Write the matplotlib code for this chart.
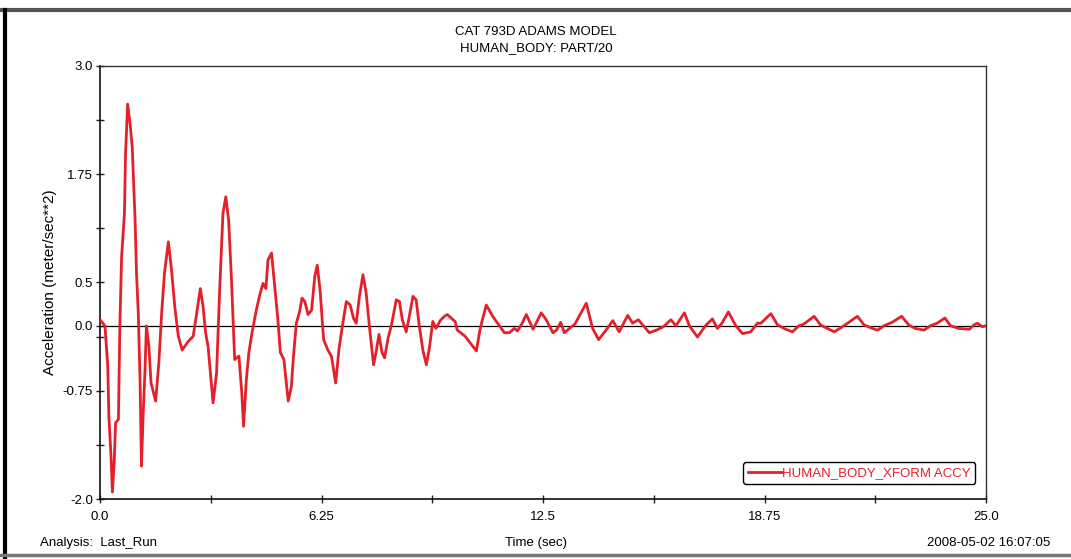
import matplotlib
matplotlib.use("Agg")
import matplotlib.pyplot as plt
from matplotlib.lines import Line2D

plt.rcParams['font.family'] = ['Liberation Sans Narrow', 'Liberation Sans', 'DejaVu Sans']

# HUMAN_BODY_XFORM ACCY, last run
time_sec = [
    0.00, 0.14, 0.22, 0.25, 0.31, 0.35, 0.40, 0.44, 0.52, 0.56, 0.61, 0.69,
    0.72, 0.78, 0.85, 0.91, 0.99, 1.03, 1.08, 1.13, 1.17, 1.22, 1.27, 1.31,
    1.38, 1.44, 1.57, 1.66, 1.74, 1.82, 1.93, 2.02, 2.11, 2.21, 2.32, 2.49,
    2.63, 2.73, 2.83, 2.91, 2.98, 3.05, 3.19, 3.29, 3.38, 3.47, 3.55, 3.63,
    3.71, 3.80, 3.92, 4.00, 4.05, 4.13, 4.20, 4.29, 4.41, 4.51, 4.60, 4.68,
    4.74, 4.84, 4.93, 5.02, 5.09, 5.19, 5.31, 5.40, 5.46, 5.54, 5.63, 5.70,
    5.78, 5.87, 5.97, 6.06, 6.13, 6.21, 6.31, 6.43, 6.53, 6.65, 6.74, 6.84,
    6.95, 7.06, 7.15, 7.23, 7.32, 7.42, 7.51, 7.60, 7.72, 7.80, 7.87, 7.96,
    8.03, 8.13, 8.22, 8.36, 8.45, 8.53, 8.64, 8.71, 8.83, 8.92, 9.01, 9.11,
    9.21, 9.30, 9.39, 9.48, 9.60, 9.72, 9.80, 9.96, 10.02, 10.08, 10.30,
    10.62, 10.72, 10.79, 10.90, 11.08, 11.22, 11.41, 11.55, 11.69, 11.78,
    11.90, 12.03, 12.22, 12.45, 12.59, 12.78, 12.88, 13.00, 13.10, 13.40,
    13.72, 13.90, 14.07, 14.28, 14.47, 14.65, 14.89, 15.03, 15.19, 15.50,
    15.70, 15.90, 16.11, 16.25, 16.49, 16.63, 16.86, 17.08, 17.28, 17.42,
    17.55, 17.73, 17.94, 18.13, 18.36, 18.55, 18.65, 18.93, 19.12, 19.35,
    19.54, 19.72, 19.86, 20.15, 20.33, 20.52, 20.72, 20.95, 21.13, 21.37,
    21.56, 21.79, 21.94, 22.12, 22.35, 22.62, 22.82, 23.00, 23.25, 23.43,
    23.62, 23.84, 24.00, 24.23, 24.53, 24.66, 24.76, 24.89, 25.00,
]
accel = [
    0.07, 0.00, -0.47, -1.04, -1.50, -1.92, -1.58, -1.12, -1.08, 0.00, 0.80, 1.30,
    1.98, 2.56, 2.33, 2.06, 1.22, 0.61, 0.15, -0.62, -1.62, -1.00, -0.51, 0.00,
    -0.24, -0.66, -0.87, -0.43, 0.15, 0.61, 0.97, 0.64, 0.22, -0.12, -0.28, -0.18,
    -0.12, 0.15, 0.43, 0.22, -0.08, -0.24, -0.89, -0.54, 0.45, 1.30, 1.49, 1.22,
    0.53, -0.39, -0.35, -0.77, -1.16, -0.62, -0.31, -0.08, 0.18, 0.36, 0.49, 0.43,
    0.76, 0.84, 0.45, 0.07, -0.31, -0.39, -0.87, -0.70, -0.35, 0.03, 0.16, 0.32,
    0.28, 0.13, 0.18, 0.57, 0.70, 0.41, -0.16, -0.28, -0.35, -0.66, -0.28, 0.00,
    0.28, 0.24, 0.09, 0.03, 0.34, 0.59, 0.38, 0.00, -0.45, -0.28, -0.10, -0.31,
    -0.37, -0.14, 0.00, 0.30, 0.28, 0.07, -0.07, 0.07, 0.34, 0.30, 0.00, -0.28,
    -0.45, -0.24, 0.05, -0.03, 0.06, 0.11, 0.13, 0.07, 0.05, -0.05, -0.12,
    -0.29, -0.05, 0.07, 0.24, 0.11, 0.03, -0.08, -0.08, -0.03, -0.06,
    0.02, 0.13, -0.04, 0.15, 0.07, -0.08, -0.05, 0.04, -0.08, 0.02,
    0.26, -0.03, -0.16, -0.05, 0.06, -0.07, 0.12, 0.03, 0.07, -0.08,
    -0.05, -0.01, 0.07, 0.00, 0.15, 0.00, -0.13, 0.00, 0.08, -0.03,
    0.03, 0.16, 0.00, -0.09, -0.07, 0.03, 0.03, 0.14, 0.01, -0.04,
    -0.07, 0.00, 0.02, 0.11, 0.01, -0.03, -0.07, -0.01, 0.04, 0.11,
    0.01, -0.03, -0.05, 0.00, 0.04, 0.11, 0.01, -0.03, -0.05, 0.00,
    0.03, 0.09, 0.00, -0.03, -0.04, 0.01, 0.03, -0.01, 0.00,
]

x_ticks = [0.0, 6.25, 12.5, 18.75, 25.0]
x_tick_labels = ['0.0', '6.25', '12.5', '18.75', '25.0']
x_minor = [3.125, 9.375, 15.625, 21.875]
y_ticks = [3.0, 1.75, 0.5, 0.0, -0.75, -2.0]
y_tick_labels = ['3.0', '1.75', '0.5', '0.0', '-0.75', '-2.0']
y_minor = [2.375, 1.125, -0.125, -1.375]

RED = '#e4202a'

fig = plt.figure(figsize=(10.71, 5.59), dpi=100)
ax = fig.add_axes([100 / 1071, 1 - 499 / 559, 886 / 1071, 433 / 559])

ax.plot(time_sec, accel, color=RED, lw=2.0, solid_joinstyle='round',
        label='HUMAN_BODY_XFORM ACCY', zorder=3)
ax.axhline(0.0, color='black', lw=0.9, zorder=2)

ax.set_xlim(0, 25)
ax.set_ylim(-2.0, 3.0)
ax.set_xticks(x_ticks)
ax.set_xticklabels(x_tick_labels)
ax.set_yticks(y_ticks)
ax.set_yticklabels(y_tick_labels)
ax.set_xticks(x_minor, minor=True)
ax.set_yticks(y_minor, minor=True)
ax.tick_params(which='both', direction='inout', length=6, width=1, labelsize=9.5, color='#222222')
ax.tick_params(axis='x', pad=6)
ax.tick_params(axis='y', pad=2)

for side in ['left', 'bottom']:
    ax.spines[side].set_color('#111111')
    ax.spines[side].set_linewidth(1.2)
for side in ['top', 'right']:
    ax.spines[side].set_color('#333333')
    ax.spines[side].set_linewidth(1.0)

ax.set_ylabel('Acceleration (meter/sec**2)', fontsize=11,
              family=['Liberation Sans', 'DejaVu Sans'], labelpad=4)

leg = ax.legend(loc='lower right', bbox_to_anchor=(0.988, 0.035), borderaxespad=0,
                fontsize=9.5, labelcolor=RED, handlelength=2.6, handletextpad=0.0,
                fancybox=True, framealpha=1, edgecolor='black', borderpad=0.35)
leg.get_frame().set_linewidth(1.0)

# headings and footer
fig.text(536 / 1071, 1 - 32 / 559, 'CAT 793D ADAMS MODEL', ha='center', va='center', fontsize=9.5)
fig.text(536 / 1071, 1 - 48 / 559, 'HUMAN_BODY: PART/20', ha='center', va='center', fontsize=9.5)
fig.text(40 / 1071, 1 - 543 / 559, 'Analysis:  Last_Run', ha='left', va='center', fontsize=9.5)
fig.text(536 / 1071, 1 - 543 / 559, 'Time (sec)', ha='center', va='center', fontsize=9.5)
fig.text(1050 / 1071, 1 - 543 / 559, '2008-05-02 16:07:05', ha='right', va='center', fontsize=9.5)

# window border
fig.add_artist(Line2D([0, 1], [1 - 10 / 559, 1 - 10 / 559], color='#555555', lw=3, transform=fig.transFigure))
fig.add_artist(Line2D([5 / 1071, 5 / 1071], [0, 1 - 10 / 559], color='black', lw=3, transform=fig.transFigure))
fig.add_artist(Line2D([0, 1], [4 / 559, 4 / 559], color='#777777', lw=2.5, transform=fig.transFigure))

fig.savefig('out.png', dpi=100)
